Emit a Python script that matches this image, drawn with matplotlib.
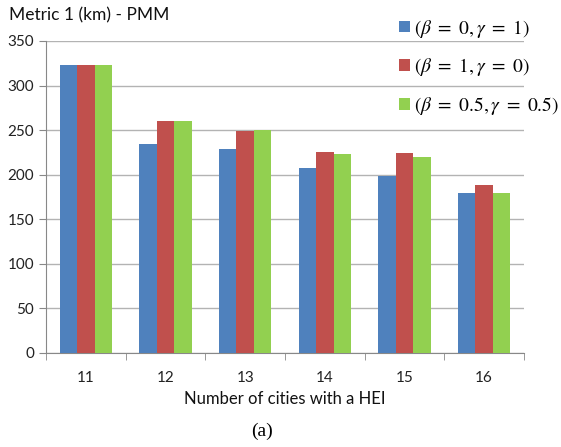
import matplotlib.pyplot as plt
import numpy as np

# data
cities = ['11', '12', '13', '14', '15', '16']
blue_vals = [323, 235, 229, 208, 199, 180]
red_vals = [323, 260, 249, 226, 224, 189]
green_vals = [323, 260, 250, 223, 220, 180]
labels = [r'$(\beta\ =\ 0,\gamma\ =\ 1)$',
          r'$(\beta\ =\ 1,\gamma\ =\ 0)$',
          r'$(\beta\ =\ 0.5,\gamma\ =\ 0.5)$']
colors = ['#4F81BD', '#C0504D', '#92D050']

plt.rcParams['mathtext.fontset'] = 'stix'
plt.rcParams['font.family'] = ['Lato', 'DejaVu Sans']

fig = plt.figure(figsize=(5.61, 4.47), dpi=100)
ax = fig.add_axes([0.082, 0.2103, 0.852, 0.698])

x = np.arange(len(cities))
w = 0.22
bars = []
for i, vals in enumerate([blue_vals, red_vals, green_vals]):
    b = ax.bar(x + (i - 1) * w, vals, w, color=colors[i], label=labels[i], zorder=3)
    bars.append(b)

ax.set_xlim(-0.5, len(cities) - 0.5)
ax.set_ylim(0, 350)
ax.set_yticks(np.arange(0, 351, 50))
ax.yaxis.grid(True, color='#b3b3b3', linewidth=1.0, zorder=0)
ax.set_xticks(x)
ax.set_xticklabels(cities)
ax.set_xticks(np.arange(-0.5, len(cities) + 0.5, 1), minor=True)
ax.tick_params(axis='x', which='major', length=0, pad=13, labelsize=11, colors='#222222')
ax.tick_params(axis='x', which='minor', length=5, color='#888888')
ax.tick_params(axis='y', length=5, color='#888888', labelsize=11, labelcolor='#222222')

for s in ['top', 'right']:
    ax.spines[s].set_visible(False)
for s in ['left', 'bottom']:
    ax.spines[s].set_color('#888888')

ax.set_xlabel('Number of cities with a HEI', fontsize=12, labelpad=4, color='#111111')
fig.text(0.016, 0.966, 'Metric 1 (km) - PMM', fontsize=12.5, va='center', color='#111111')

leg = fig.legend(handles=bars, loc='upper left', bbox_to_anchor=(0.68, 1.0),
                 frameon=False, fontsize=14, handlelength=0.55, handleheight=0.55,
                 handletextpad=0.2, labelspacing=0.85)

fig.text(0.467, 0.034, '(a)', fontsize=14, ha='center', va='center',
         family='Liberation Serif')

plt.savefig('out.png', dpi=100)
